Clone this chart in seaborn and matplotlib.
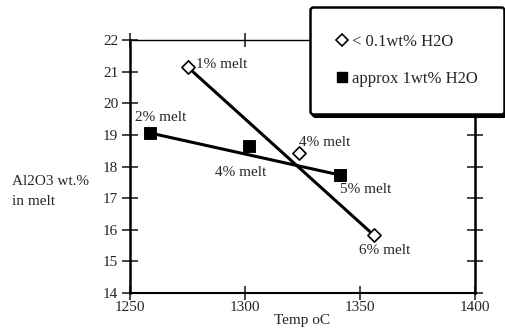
import matplotlib
matplotlib.use("Agg")
import matplotlib.pyplot as plt
import seaborn as sns
import pandas as pd
from matplotlib.lines import Line2D

# dry runs (< 0.1 wt% H2O), open diamonds
dry_temp = [1275, 1323.5, 1356]
dry_al2o3 = [21.15, 18.42, 15.83]
dry_labels = ["1% melt", "4% melt", "6% melt"]

# wet runs (approx 1 wt% H2O), filled squares
wet_temp = [1258.7, 1301.7, 1341.3]
wet_al2o3 = [19.06, 18.65, 17.73]
wet_labels = ["2% melt", "4% melt", "5% melt"]

x_ticks = [1250, 1300, 1350, 1400]
y_ticks = [14, 15, 16, 17, 18, 19, 20, 21, 22]

sns.set_style("ticks")
plt.rcParams["font.family"] = ["Liberation Serif", "DejaVu Serif"]
plt.rcParams["font.size"] = 11

fig = plt.figure(figsize=(5.06, 3.35), dpi=100)
ax = fig.add_axes([130 / 506, 1 - 293 / 335, 345 / 506, 253 / 335])

dry = pd.DataFrame({"temp": dry_temp, "al": dry_al2o3})
wet = pd.DataFrame({"temp": wet_temp, "al": wet_al2o3})

# trend lines drawn from first to last run of each series
sns.lineplot(data=dry.iloc[[0, -1]], x="temp", y="al", ax=ax, color="black", lw=2.2)
sns.lineplot(data=wet.iloc[[0, -1]], x="temp", y="al", ax=ax, color="black", lw=2.2)

sns.scatterplot(data=dry, x="temp", y="al", ax=ax, marker="D", s=45,
                facecolor="white", edgecolor="black", linewidth=1.2, zorder=5)
sns.scatterplot(data=wet, x="temp", y="al", ax=ax, marker="s", s=65,
                color="black", edgecolor="black", zorder=5)

# label offsets in pixels
dry_off = [(8, 2), (0, 11), (-15, -15)]
wet_off = [(-15, 15), (-34, -27), (0, -14)]
for xs, ys, labs, offs in [(dry_temp, dry_al2o3, dry_labels, dry_off),
                           (wet_temp, wet_al2o3, wet_labels, wet_off)]:
    for x, y, lab, (dx, dy) in zip(xs, ys, labs, offs):
        ax.annotate(lab, (x, y), xytext=(dx, dy), textcoords="offset pixels",
                    ha="left", va="center", fontsize=11)

ax.set_xlim(1250, 1400)
ax.set_ylim(14, 22)
ax.set_xticks(x_ticks)
ax.set_yticks(y_ticks)
ax.set_xlabel("Temp oC", fontsize=11, labelpad=0)
ax.set_ylabel("")
fig.text(12 / 506, 1 - 191.5 / 335, "Al2O3 wt.%\nin melt", ha="left",
         va="center", fontsize=11, linespacing=1.7)

for side in ["left", "right"]:
    ax.spines[side].set_linewidth(1.8)
ax.spines["bottom"].set_linewidth(1.5)
ax.spines["top"].set_linewidth(1.0)
for s in ax.spines.values():
    s.set_color("black")
ax.tick_params(axis="x", direction="inout", length=10, width=1.2, pad=0.5,
               top=True, labelsize=11)
ax.tick_params(axis="y", direction="inout", length=12, width=1.2, pad=2.5,
               right=True, labelsize=11)

handles = [
    Line2D([], [], marker="D", ls="none", mfc="white", mec="black", ms=6, mew=1.2),
    Line2D([], [], marker="s", ls="none", mfc="black", mec="black", ms=7),
]
leg = fig.legend(handles, ["< 0.1wt% H2O", "approx 1wt% H2O"],
                 loc="upper right", bbox_to_anchor=(504 / 506, 1 - 7 / 335),
                 fancybox=True, shadow={"color": "black", "alpha": 1},
                 framealpha=1, edgecolor="black", fontsize=12,
                 borderpad=1.6, labelspacing=1.3,
                 handlelength=0.6, handletextpad=0.3, borderaxespad=0)
leg.get_frame().set_linewidth(1.8)

fig.savefig("out.png", dpi=100)
